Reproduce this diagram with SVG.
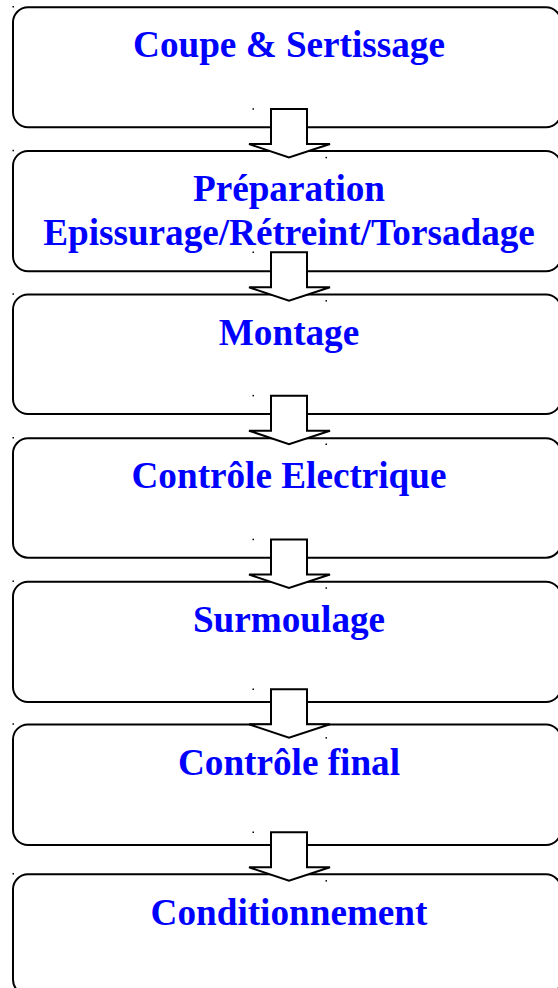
<svg xmlns="http://www.w3.org/2000/svg" width="558" height="988" viewBox="0 0 558 988">
  <style>
    .step { fill: #ffffff; stroke: #000000; stroke-width: 2; }
    .arrow { fill: #ffffff; stroke: #000000; stroke-width: 2; stroke-linejoin: miter; }
    .label { font-family: "Liberation Serif", "Times New Roman", serif; font-weight: bold; font-size: 37.2px; fill: #0000ff; text-anchor: middle; }
    .mark { fill: #000000; }
  </style>
  <defs>
    <!-- block arrow pointing down, origin at the top of the shaft -->
    <polygon id="down" class="arrow" points="271,0 307,0 307,35 330,35 289,48.5 249,35 271,35"/>
  </defs>

  <g id="step-coupe">
    <rect class="step" x="13" y="7.3" width="548" height="120" rx="15" ry="15"/>
    <rect class="mark" x="12.5" y="6" width="1.5" height="1.5"/>
    <text class="label" x="289" y="57.3">Coupe &amp; Sertissage</text>
  </g>
  <g id="step-preparation">
    <rect class="step" x="13" y="151" width="548" height="120.3" rx="15" ry="15"/>
    <rect class="mark" x="12.5" y="149.8" width="1.5" height="1.5"/>
    <text class="label" x="289" y="200.6">Préparation</text>
    <text class="label" x="289" y="244.8">Epissurage/Rétreint/Torsadage</text>
  </g>
  <g id="step-montage">
    <rect class="step" x="13" y="294.5" width="548" height="119.5" rx="15" ry="15"/>
    <rect class="mark" x="12.5" y="293.3" width="1.5" height="1.5"/>
    <text class="label" x="289" y="344.6">Montage</text>
  </g>
  <g id="step-controle-electrique">
    <rect class="step" x="13" y="438.3" width="548" height="119.4" rx="15" ry="15"/>
    <rect class="mark" x="12.5" y="437" width="1.5" height="1.5"/>
    <text class="label" x="289" y="488">Contrôle Electrique</text>
  </g>
  <g id="step-surmoulage">
    <rect class="step" x="13" y="581.7" width="548" height="120.3" rx="15" ry="15"/>
    <rect class="mark" x="12.5" y="580.5" width="1.5" height="1.5"/>
    <text class="label" x="289" y="631.6">Surmoulage</text>
  </g>
  <g id="step-controle-final">
    <rect class="step" x="13" y="724.5" width="548" height="120.5" rx="15" ry="15"/>
    <rect class="mark" x="12.5" y="723.3" width="1.5" height="1.5"/>
    <text class="label" x="289" y="774.6">Contrôle final</text>
  </g>
  <g id="step-conditionnement">
    <rect class="step" x="13" y="874.3" width="548" height="120.5" rx="15" ry="15"/>
    <rect class="mark" x="12.5" y="873" width="1.5" height="1.5"/>
    <text class="label" x="289" y="924.6">Conditionnement</text>
  </g>

  <g id="connectors">
    <g transform="translate(0,109)"><use href="#down"/><rect class="mark" x="252.5" y="-0.8" width="1.5" height="1.5"/><rect class="mark" x="325.5" y="47.8" width="1.5" height="1.5"/></g>
    <g transform="translate(0,252.3)"><use href="#down"/><rect class="mark" x="252.5" y="-0.8" width="1.5" height="1.5"/><rect class="mark" x="325.5" y="47.8" width="1.5" height="1.5"/></g>
    <g transform="translate(0,395.7)"><use href="#down"/><rect class="mark" x="252.5" y="-0.8" width="1.5" height="1.5"/><rect class="mark" x="325.5" y="47.8" width="1.5" height="1.5"/></g>
    <g transform="translate(0,539.5)"><use href="#down"/><rect class="mark" x="252.5" y="-0.8" width="1.5" height="1.5"/><rect class="mark" x="325.5" y="47.8" width="1.5" height="1.5"/></g>
    <g transform="translate(0,689.3)"><use href="#down"/><rect class="mark" x="252.5" y="-0.8" width="1.5" height="1.5"/><rect class="mark" x="325.5" y="47.8" width="1.5" height="1.5"/></g>
    <g transform="translate(0,832.3)"><use href="#down"/><rect class="mark" x="252.5" y="-0.8" width="1.5" height="1.5"/><rect class="mark" x="325.5" y="47.8" width="1.5" height="1.5"/></g>
  </g>
</svg>
